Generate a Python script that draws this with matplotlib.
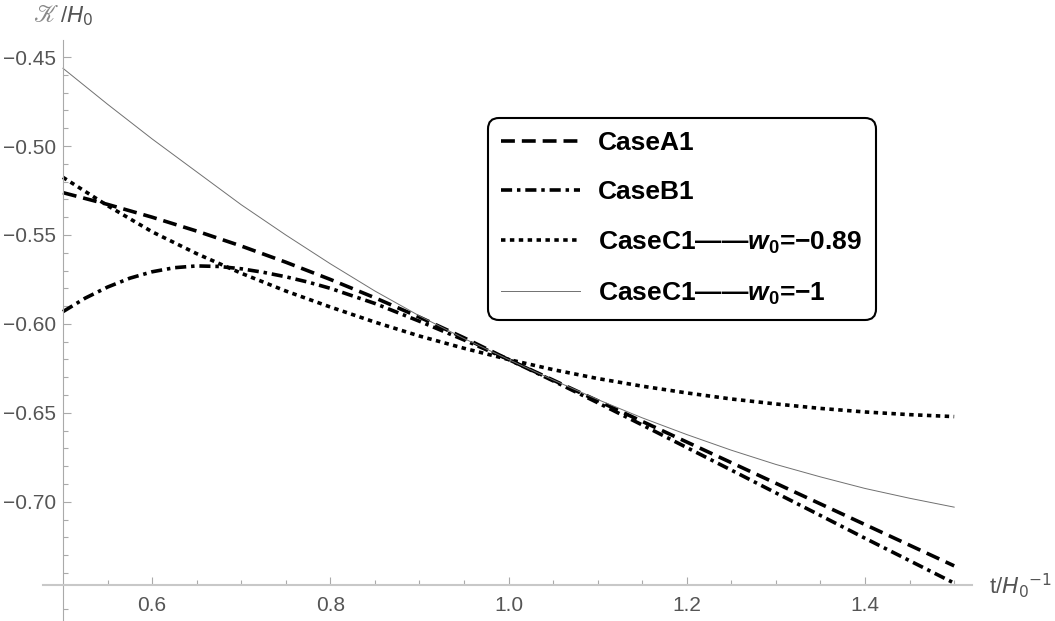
import numpy as np
import matplotlib.pyplot as plt

# values (t in units of 1/H0)
t = [0.50, 0.55, 0.60, 0.65, 0.70, 0.75, 0.80, 0.85, 0.90, 0.95, 1.00,
     1.05, 1.10, 1.15, 1.20, 1.25, 1.30, 1.35, 1.40, 1.45, 1.50]

case_a1 = [-0.5262, -0.5328, -0.5400, -0.5478, -0.5562, -0.5653, -0.5750,
           -0.5853, -0.5962, -0.6078, -0.6200, -0.6316, -0.6432, -0.6548,
           -0.6664, -0.6780, -0.6896, -0.7012, -0.7128, -0.7244, -0.7360]
case_c1_089 = [-0.5176, -0.5335, -0.5482, -0.5605, -0.5715, -0.5815, -0.5905,
               -0.5990, -0.6068, -0.6137, -0.6200, -0.6257, -0.6307, -0.6350,
               -0.6388, -0.6422, -0.6450, -0.6475, -0.6495, -0.6510, -0.6521]
case_c1_1 = [-0.4563, -0.4765, -0.4960, -0.5145, -0.5330, -0.5500, -0.5662,
             -0.5815, -0.5955, -0.6082, -0.6200, -0.6315, -0.6425, -0.6528,
             -0.6622, -0.6710, -0.6790, -0.6860, -0.6925, -0.6980, -0.7030]

# CaseB1 bends near its maximum, so it was read on a finer step there
t_b1 = [0.500, 0.525, 0.550, 0.575, 0.600, 0.625, 0.650, 0.675, 0.700,
        0.725, 0.750, 0.775, 0.800, 0.850, 0.900, 0.950, 1.000, 1.050,
        1.100, 1.150, 1.200, 1.250, 1.300, 1.350, 1.400, 1.450, 1.500]
case_b1 = [-0.5931, -0.5855, -0.5793, -0.5743, -0.5707, -0.5684, -0.5674,
           -0.5677, -0.5690, -0.5710, -0.5735, -0.5765, -0.5800, -0.5885,
           -0.5985, -0.6090, -0.6200, -0.6320, -0.6443, -0.6568, -0.6695,
           -0.6822, -0.6950, -0.7077, -0.7205, -0.7331, -0.7457]

labels = ["CaseA1", "CaseB1",
          "CaseC1——$w_0$=−0.89", "CaseC1——$w_0$=−1"]

plt.rcParams['lines.scale_dashes'] = False
plt.rcParams['mathtext.fontset'] = 'custom'
plt.rcParams['mathtext.rm'] = 'Liberation Sans:bold'
plt.rcParams['mathtext.it'] = 'Liberation Sans:italic:bold'
plt.rcParams['mathtext.bf'] = 'Liberation Sans:bold'
plt.rcParams['font.family'] = ['Liberation Sans', 'DejaVu Sans']

W, H = 1055, 621
fig = plt.figure(figsize=(W / 100, H / 100), dpi=100)
# axes box in pixels: x 43..972, y 40..621
ax = fig.add_axes([43 / W, 0, (972 - 43) / W, (621 - 40) / H])

lw = 2.6
ax.plot(t, case_a1, color='black', lw=lw, linestyle=(0, (10, 5)), label=labels[0])
ax.plot(t_b1, case_b1, color='black', lw=lw, linestyle=(0, (8, 3.5, 2.5, 3.5)), label=labels[1])
ax.plot(t, case_c1_089, color='black', lw=lw, linestyle=(0, (3.2, 3.2)), label=labels[2])
ax.plot(t, case_c1_1, color='#707070', lw=0.7, label=labels[3])

ax.set_xlim(0.4776, 1.520)
ax.set_ylim(-0.7670, -0.4404)

axis_col = '#aaaaaa'
for s in ['top', 'right']:
    ax.spines[s].set_visible(False)
ax.spines['left'].set_position(('data', 0.5))
ax.spines['bottom'].set_position(('data', -0.7466))
ax.spines['left'].set_color(axis_col)
ax.spines['left'].set_linewidth(0.8)
ax.spines['bottom'].set_color('#c8c8c8')
ax.spines['bottom'].set_linewidth(1.5)

ax.set_xticks([0.6, 0.8, 1.0, 1.2, 1.4])
ax.set_xticks([0.55, 0.65, 0.7, 0.75, 0.85, 0.9, 0.95, 1.05, 1.1, 1.15,
               1.25, 1.3, 1.35, 1.45, 1.5], minor=True)
ax.set_yticks([-0.70, -0.65, -0.60, -0.55, -0.50, -0.45])
ax.set_yticks([v / 100 for v in range(-76, -44) if v % 5 != 0], minor=True)
ax.set_xticklabels(['0.6', '0.8', '1.0', '1.2', '1.4'])
ax.set_yticklabels(['−0.70', '−0.65', '−0.60', '−0.55', '−0.50', '−0.45'])

lab_col = '#555555'
ax.tick_params(which='both', direction='in', color=axis_col, labelcolor=lab_col,
               labelsize=15)
ax.tick_params(axis='x', which='major', length=6, width=0.8, pad=8)
ax.tick_params(axis='x', which='minor', length=3.5, width=0.8)
ax.tick_params(axis='y', which='major', length=6, width=0.8, pad=5)
ax.tick_params(axis='y', which='minor', length=3.5, width=0.8)

# axis labels: script K, then /H0 ; t/H0^-1 at the end of the time axis
fig.text(33 / W, 1 - 16 / H, r'$\mathscr{K}$', color='#888888',
         fontsize=17, ha='left', va='center', math_fontfamily='stix')
fig.text(60 / W, 1 - 16 / H, r'/$\mathit{H}_0$', color=lab_col,
         fontsize=16, ha='left', va='center', math_fontfamily='dejavusans')
fig.text(989 / W, 1 - 586 / H, r't/$\mathit{H}_0{}^{-1}$', color=lab_col,
         fontsize=16, ha='left', va='center', math_fontfamily='dejavusans')

leg = ax.legend(loc='upper left', bbox_to_anchor=(488 / W, 1 - 118 / H),
                bbox_transform=fig.transFigure, borderaxespad=0,
                prop={'weight': 'bold', 'size': 19},
                handlelength=3.0, handletextpad=0.68, labelspacing=0.95,
                borderpad=0.5, fancybox=True, framealpha=1)
leg.get_frame().set_edgecolor('black')
leg.get_frame().set_linewidth(1.5)
leg.get_frame().set_boxstyle('round', pad=0, rounding_size=0.4)

fig.savefig('out.png', dpi=100)
